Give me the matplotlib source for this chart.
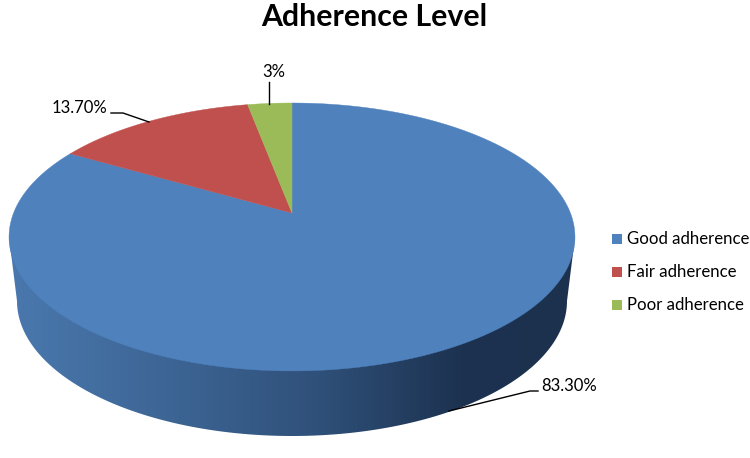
import numpy as np
import matplotlib.pyplot as plt
from matplotlib.colors import LinearSegmentedColormap
from matplotlib.patches import Polygon, Rectangle

labels = ['Good adherence', 'Fair adherence', 'Poor adherence']
values = [83.3, 13.7, 3.0]
value_labels = ['83.30%', '13.70%', '3%']
colors = ['#4f81bd', '#c0504d', '#9bbb59']

plt.rcParams['font.family'] = ['Lato', 'DejaVu Sans']

# pie geometry in image pixels, the top face is a circle seen in perspective
CX, APEX_Y = 292, 213
K, A, C = 278.4, -91.55, 0.179


def project(angle):
    """Map an angle on the unit circle (clockwise from 12 o'clock) to the image."""
    u, v = np.sin(angle), np.cos(angle)
    d = C * v + 1
    return CX + K * u / d, (A * v + APEX_Y) / d


def draw_wall(ax):
    # side of the pie, a horizontal gradient clipped to the lower outline
    t = np.linspace(np.pi, 2 * np.pi, 200)
    bx = 292 + 275 * np.cos(t)
    by = 301 - 135 * np.sin(t)
    xs = np.r_[9, bx, 575, 292]
    ys = np.r_[237, by, 237, 237]
    outline = Polygon(np.c_[xs, ys], transform=ax.transData, fc='none', ec='none')
    ax.add_patch(outline)
    cmap = LinearSegmentedColormap.from_list('wall', [
        (0.0, '#4a78ae'), (0.3, '#3c6493'), (0.55, '#2f5079'),
        (0.8, '#1c3250'), (1.0, '#1c314e')])
    grad = np.linspace(0, 1, 256).reshape(1, -1)
    im = ax.imshow(grad, cmap=cmap, extent=(9, 575, 458, 0), aspect='auto', zorder=1)
    im.set_clip_path(outline)


def draw_top(ax):
    start = 0.0
    # values run clockwise from 12 o'clock
    for val, col in zip(values, colors):
        end = start + val / sum(values) * 2 * np.pi
        a = np.linspace(start, end, 300)
        x, y = project(a)
        ax.fill(np.r_[CX, x], np.r_[APEX_Y, y], fc=col, ec=col, lw=0.3, zorder=2)
        start = end


def main():
    fig = plt.figure(figsize=(7.5, 4.58), dpi=100)
    ax = fig.add_axes([0, 0, 1, 1])
    draw_wall(ax)
    draw_top(ax)
    ax.set_xlim(0, 750)
    ax.set_ylim(458, 0)
    ax.axis('off')

    ax.text(374, 17, 'Adherence Level', ha='center', va='center', fontsize=21.8, fontweight='bold', color='black')

    # data labels and leader lines
    ax.plot([449, 530, 538], [411, 391, 391], color='black', lw=1, zorder=3)
    ax.text(541, 386, value_labels[0], ha='left', va='center', fontsize=12)
    ax.plot([149, 123, 111], [122, 113, 113], color='black', lw=1, zorder=3)
    ax.text(107, 108, value_labels[1], ha='right', va='center', fontsize=12)
    ax.plot([269, 269], [104, 82], color='black', lw=1, zorder=3)
    ax.text(274, 72, value_labels[2], ha='center', va='center', fontsize=12)

    # legend
    for lab, col, y in zip(labels, colors, [239, 272, 305]):
        ax.add_patch(Rectangle((612, y - 5), 10, 10, fc=col, ec='none'))
        ax.text(627, y, lab, ha='left', va='center', fontsize=12.1)

    fig.savefig('out.png', dpi=100)
    plt.close()


if __name__ == '__main__':
    main()
